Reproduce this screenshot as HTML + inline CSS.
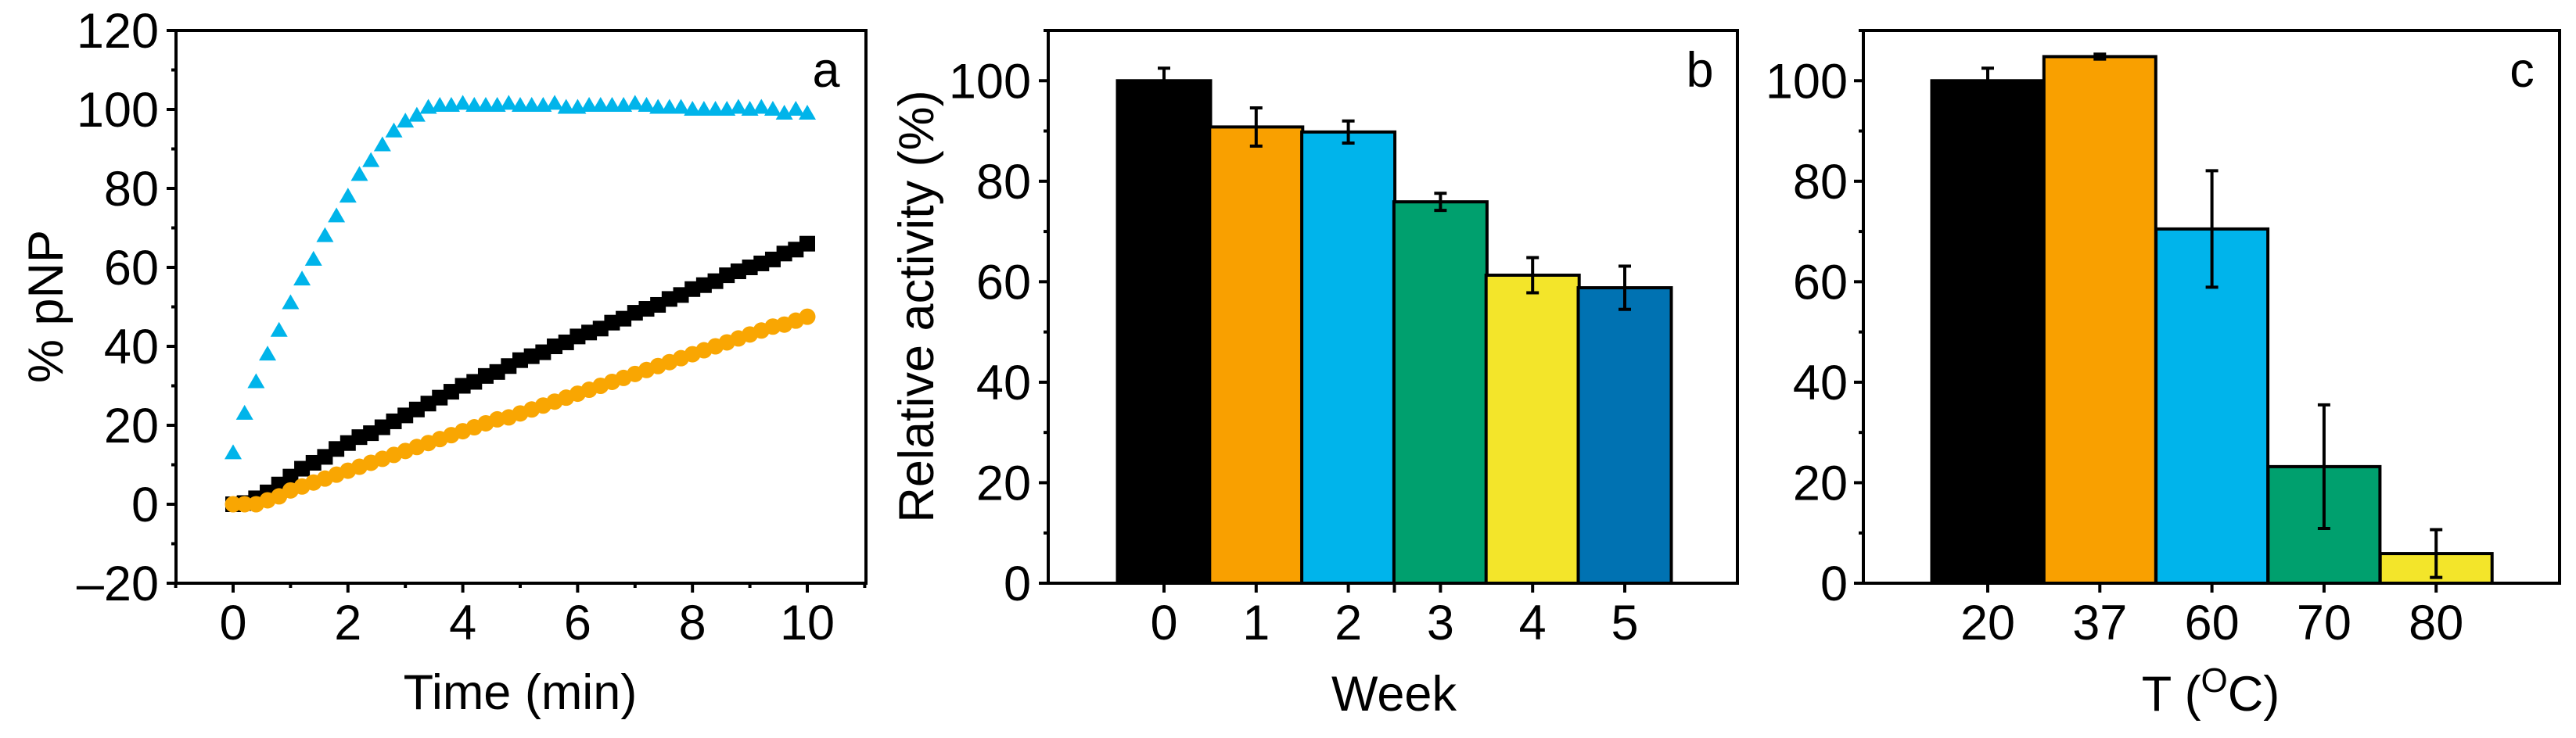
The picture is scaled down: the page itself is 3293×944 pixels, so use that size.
<!DOCTYPE html>
<html><head><meta charset="utf-8">
<style>
html,body{margin:0;padding:0;background:#fff;}
svg{display:block;font-family:"Liberation Sans",Arial,sans-serif;}
</style></head>
<body>
<svg id="fig" width="3293" height="944" viewBox="0 0 3293 944" xmlns="http://www.w3.org/2000/svg">
<g id="pa"></g>
<g id="pb"></g>
<g id="pc"></g>
</svg>
<script>
// ---------- Panel a data ----------
const timesA = [0,0.2,0.4,0.6,0.8,1.0,1.2,1.4,1.6,1.8,2.0,2.2,2.4,2.6,2.8,3.0,3.2,3.4,3.6,3.8,4.0,4.2,4.4,4.6,4.8,5.0,5.2,5.4,5.6,5.8,6.0,6.2,6.4,6.6,6.8,7.0,7.2,7.4,7.6,7.8,8.0,8.2,8.4,8.6,8.8,9.0,9.2,9.4,9.6,9.8,10];
const blackA = [0,0.3,1.5,3,5,7,9,10.5,12,14,15.5,17,18,19.5,21,22.5,24,25.5,27,28.5,30,31,32.5,33.5,35,36.5,37.5,38.5,40,41,42.5,43.5,44.5,46,47,48.5,49.5,50.5,52,53,54.5,55.5,56.5,58,59,60,61,62,63.5,64.5,66];
const orangeA = [0,0,0,1,2,3.5,4.5,5.5,6.5,7.5,8.5,9.5,10.5,11.5,12.5,13.5,14.5,15.5,16.5,17.5,18.5,19.5,20.5,21.5,22,23,24,25,26,27,28,29,30,31,32,33,34,35,36,37,38,39,40,41,42,43,44,45,45.5,46.5,47.5];
const cyanA = [13,23,31,38,44,51,57,62,68,73,78,83.5,87,91,94.5,97,98.5,100.5,101,101,101.5,101,101,101,101.5,101,101,101,101.5,100.5,100.5,101,101,101,101,101.5,101,100.5,100.5,100.5,100,100,100,100,100.5,100,100.5,100,99,100,99];
const xTicksA = [0,2,4,6,8,10];
const yTicksA = [-20,0,20,40,60,80,100,120];
// ---------- Panel b data ----------
const weeksB = ["0","1","2","3","4","5"];
const valuesB = [100,90.8,89.8,75.9,61.3,58.8];
const errorsB = [2.5,3.8,2.2,1.7,3.5,4.3];
const yTicksB = [0,20,40,60,80,100];
// ---------- Panel c data ----------
const tempsC = ["20","37","60","70","80"];
const valuesC = [100,104.8,70.5,23.2,5.9];
const errorsC = [2.5,0.5,11.6,12.3,4.75];
const yTicksC = [0,20,40,60,80,100];
const barColors = ["#000000","#F9A000","#00B4EB","#00A06E","#F3E52A","#0072B2"];

const FS=63;
const NS="http://www.w3.org/2000/svg";
function mk(parent,tag,attrs,text){const e=document.createElementNS(NS,tag);for(const k in attrs)e.setAttribute(k,attrs[k]);if(text!==undefined)e.textContent=text;parent.appendChild(e);return e;}

function frame(g,L,R,T,B){
  const f=mk(g,'rect',{x:L,y:T,width:R-L,height:B-T,fill:'none',stroke:'#000','stroke-width':4});
  
  
}
function yAxis(g,L,yf,ticks,minorStep,lo,hi,labelRight,fmt){
  for(let v=lo;v<=hi+1e-9;v+=minorStep){
    const isMajor=ticks.some(t=>Math.abs(t-v)<1e-9);
    const t=mk(g,'line',{x1:L-(isMajor?12:6),x2:L,y1:yf(v),y2:yf(v),stroke:'#000','stroke-width':4});
    
    
  }
  ticks.forEach(v=>{
    const tl=mk(g,'text',{x:labelRight,y:yf(v)+22,'text-anchor':'end','font-size':FS},fmt(v));
    
    
  });
}

// ================= Panel A =================
(function(){
  const g=document.getElementById('pa');
  const L=225,R=1107,T=39,B=746;
  const x=v=>298+(v-0)*73.4;
  const y=v=>B-(v+20)*(B-T)/140;
  frame(g,L,R,T,B);
  yAxis(g,L,y,yTicksA,10,-20,120,203,v=>v<0?'\u2013'+Math.abs(v):String(v));
  for(let v=-1;v<=11;v+=1){
    const isMajor=xTicksA.includes(v);
    const t=mk(g,'line',{x1:x(v),x2:x(v),y1:B,y2:B+(isMajor?12:6),stroke:'#000','stroke-width':4});
    
    
  }
  xTicksA.forEach(v=>{
    const tl=mk(g,'text',{x:x(v),y:818,'text-anchor':'middle','font-size':FS},String(v));
    
    
  });
  const xt=mk(g,'text',{x:665,y:907,'text-anchor':'middle','font-size':FS},'Time (min)');
  
  
  const yt=mk(g,'text',{x:0,y:0,'text-anchor':'middle','font-size':FS,transform:'translate(80,392) rotate(-90)'},'% pNP');
  
  
  const pl=mk(g,'text',{x:1056,y:111,'text-anchor':'middle','font-size':FS},'a');
  
  

  const sg=mk(g,'g',{});
  
  
  timesA.forEach((t,i)=>{
    const m=mk(sg,'rect',{x:x(t)-10,y:y(blackA[i])-10,width:20,height:20,fill:'#000'});
    
    
  });
  const og=mk(g,'g',{});
  
  
  timesA.forEach((t,i)=>{
    const m=mk(og,'circle',{cx:x(t),cy:y(orangeA[i]),r:10.5,fill:'#F9A602'});
    
    
  });
  const cg=mk(g,'g',{});
  
  
  timesA.forEach((t,i)=>{
    const cx=x(t),cy=y(cyanA[i]);
    const m=mk(cg,'polygon',{points:`${cx},${cy-11} ${cx-11},${cy+8} ${cx+11},${cy+8}`,fill:'#00B4EA'});
    
    
  });
})();

// ================= Bar panels =================
function barPanel(gid,L,R,cats,vals,errs,yTicks,c0,step,bw,labelRight,xTitle,xTitleX,extraTick,ylab,plabel,plx){
  const g=document.getElementById(gid);
  const T=39,B=746;
  const y=v=>B-v*(B-T)/110;
  const x=i=>c0+i*step;
  frame(g,L,R,T,B);
  yAxis(g,L,y,yTicks,10,0,110,labelRight,v=>String(v));
  const bg=mk(g,'g',{});
  
  
  vals.forEach((v,i)=>{
    const b=mk(bg,'rect',{x:x(i)-bw/2,y:y(v),width:bw,height:B-y(v),fill:barColors[i],stroke:'#000','stroke-width':4});
    
    
  });
  vals.forEach((v,i)=>{
    const eg=mk(g,'g',{stroke:'#000','stroke-width':4});
    
    
    const top=y(v+errs[i]),bot=Math.min(B,y(v-errs[i]));
    mk(eg,'line',{x1:x(i),x2:x(i),y1:top,y2:bot});
    mk(eg,'line',{x1:x(i)-8,x2:x(i)+8,y1:top,y2:top});
    mk(eg,'line',{x1:x(i)-8,x2:x(i)+8,y1:bot,y2:bot});
  });
  cats.forEach((c,i)=>{
    const t=mk(g,'line',{x1:x(i),x2:x(i),y1:B,y2:B+12,stroke:'#000','stroke-width':4});
    
    
    const tl=mk(g,'text',{x:x(i),y:818,'text-anchor':'middle','font-size':FS},c);
    
    
  });
  if(extraTick!==null){
    const t=mk(g,'line',{x1:x(extraTick),x2:x(extraTick),y1:B,y2:B+12,stroke:'#000','stroke-width':4});
    
    
  }
  const xt=mk(g,'text',{x:xTitleX,y:909,'text-anchor':'middle','font-size':FS});
  xt.innerHTML=xTitle;
  
  
  if(ylab){
    const yt=mk(g,'text',{x:0,y:0,'text-anchor':'middle','font-size':FS,transform:'translate(1193,392) rotate(-90)'},ylab);
    
    
  }
  const pl=mk(g,'text',{x:plx,y:111,'text-anchor':'middle','font-size':FS},plabel);
  
  
}
barPanel('pb',1340,2221,weeksB,valuesB,errorsB,yTicksB,1488,117.8,119,1318,'Week',1782,2.5,'Relative activity (%)','b',2173);
barPanel('pc',2382,3272,tempsC,valuesC,errorsC,yTicksC,2541,143.3,143,2362,'T (<tspan baseline-shift="super" font-size="44">O</tspan>C)',2826,null,null,'c',3224);
</script>
</body></html>
